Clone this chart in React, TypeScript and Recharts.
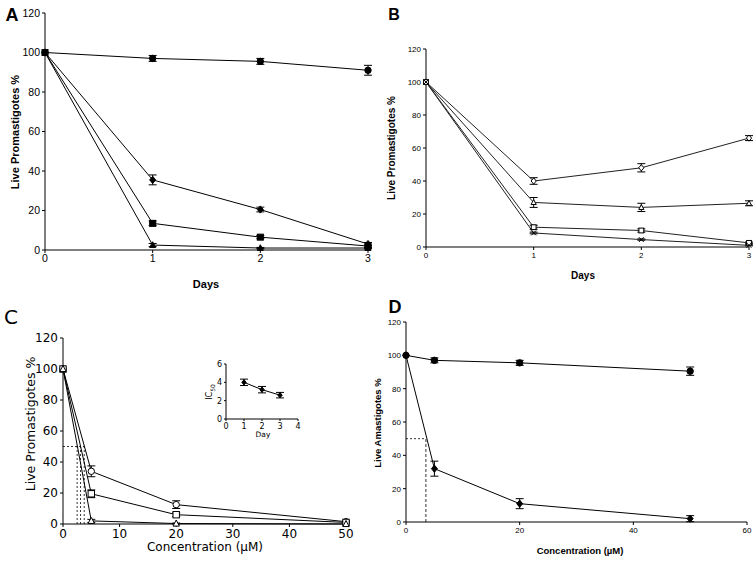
import React from "react";
import {
  LineChart,
  Line,
  XAxis,
  YAxis,
  ErrorBar,
  ReferenceLine,
} from "recharts";

// ---- data ----
const daysX = [0, 1, 2, 3];
const concX = [0, 5, 20, 50];

// Panel A (days)
const aCtrl = [100, 97, 95.5, 91];
const aCtrlErr = [0, 1.5, 1.5, 2.5];
const aDiamond = [100, 35.5, 20.5, 3];
const aDiamondErr = [0, 2.5, 1.2, 0.8];
const aSquare = [100, 13.5, 6.5, 2];
const aSquareErr = [0, 1.2, 0.8, 0.5];
const aTri = [100, 2.5, 1, 1];
const aTriErr = [0, 0.8, 0.3, 0.3];

// Panel B (days)
const bDiamond = [100, 40, 48, 66];
const bDiamondErr = [0, 2, 2.5, 1.5];
const bTri = [100, 27, 24, 26.5];
const bTriErr = [0, 3, 2.5, 1.5];
const bSquare = [100, 12, 10, 2.5];
const bSquareErr = [0, 1.2, 1, 0.5];
const bCross = [100, 8.5, 4.5, 1];
const bCrossErr = [0, 0.5, 0.4, 0.3];

// Panel C (concentration)
const cCircle = [100, 34, 12.5, 1.5];
const cCircleErr = [0, 3.5, 2.5, 0.5];
const cSquare = [100, 19.5, 6, 1];
const cSquareErr = [0, 2.5, 1.2, 0.5];
const cTri = [100, 2, 0.3, 0];
const cTriErr = [0, 1, 0.3, 0];
const cIc50Lines = [2.5, 3.1, 3.75];

// Inset IC50 vs day
const insetDay = [1, 2, 3];
const insetIc50 = [4.0, 3.2, 2.6];
const insetErr = [0.35, 0.35, 0.3];

// Panel D (concentration)
const dCtrl = [100, 97, 95.5, 90.5];
const dCtrlErr = [0, 1.5, 1.5, 2.5];
const dDrug = [100, 32, 11, 2];
const dDrugErr = [0, 4.5, 3, 1.8];
const dIc50 = 3.5;

const pctTicks = [0, 20, 40, 60, 80, 100, 120];

const rows = (xs: number[], series: Record<string, number[]>) =>
  xs.map((x, i) => {
    const r: Record<string, number> = { x };
    Object.keys(series).forEach((k) => (r[k] = series[k][i]));
    return r;
  });

const dataA = rows(daysX, {
  s1: aCtrl, e1: aCtrlErr, s2: aDiamond, e2: aDiamondErr,
  s3: aSquare, e3: aSquareErr, s4: aTri, e4: aTriErr,
});
const dataB = rows(daysX, {
  s1: bDiamond, e1: bDiamondErr, s2: bTri, e2: bTriErr,
  s3: bSquare, e3: bSquareErr, s4: bCross, e4: bCrossErr,
});
const dataC = rows(concX, {
  s1: cCircle, e1: cCircleErr, s2: cSquare, e2: cSquareErr,
  s3: cTri, e3: cTriErr,
});
const dataInset = rows(insetDay, { s1: insetIc50, e1: insetErr });
const dataD = rows(concX, {
  s1: dCtrl, e1: dCtrlErr, s2: dDrug, e2: dDrugErr,
});

type Shape = "circle" | "square" | "diamond" | "triangle" | "cross";

const Mk = ({ cx, cy, shape, filled, s }: { cx: number; cy: number; shape: Shape; filled: boolean; s: number }) => {
  if (cx == null || cy == null) return null;
  const fill = filled ? "#000" : "#fff";
  const common = { fill, stroke: "#000", strokeWidth: 1 };
  if (shape === "circle") return <circle cx={cx} cy={cy} r={s} {...common} />;
  if (shape === "square")
    return <rect x={cx - s} y={cy - s} width={s * 2} height={s * 2} {...common} />;
  if (shape === "diamond")
    return (
      <polygon
        points={`${cx},${cy - s * 1.2} ${cx + s},${cy} ${cx},${cy + s * 1.2} ${cx - s},${cy}`}
        {...common}
      />
    );
  if (shape === "triangle")
    return (
      <polygon
        points={`${cx},${cy - s * 1.1} ${cx + s},${cy + s * 0.8} ${cx - s},${cy + s * 0.8}`}
        {...common}
      />
    );
  return (
    <g stroke="#000" strokeWidth={1}>
      <line x1={cx - s} y1={cy - s} x2={cx + s} y2={cy + s} />
      <line x1={cx - s} y1={cy + s} x2={cx + s} y2={cy - s} />
    </g>
  );
};

const dot = (shape: Shape, filled: boolean, s: number) => (p: any) => (
  <Mk key={`d-${p.index}`} cx={p.cx} cy={p.cy} shape={shape} filled={filled} s={s} />
);

const series = (
  key: string,
  err: string,
  shape: Shape,
  filled: boolean,
  s: number,
  color = "#000"
) => (
  <Line
    key={key}
    dataKey={key}
    stroke={color}
    strokeWidth={1}
    dot={dot(shape, filled, s)}
    activeDot={false}
    isAnimationActive={false}
  >
    <ErrorBar dataKey={err} width={4} stroke="#000" strokeWidth={1} direction="y" />
  </Line>
);

const abs = (left: number, top: number): React.CSSProperties => ({
  position: "absolute",
  left,
  top,
});

const Txt = ({
  x, y, children, size, bold, rotate, font,
}: {
  x: number; y: number; children: React.ReactNode; size: number;
  bold?: boolean; rotate?: boolean; font?: string;
}) => (
  <div
    style={{
      position: "absolute",
      left: x,
      top: y,
      transform: `translate(-50%, -50%)${rotate ? " rotate(-90deg)" : ""}`,
      fontFamily: font || "'Liberation Sans', Arial, sans-serif",
      fontSize: size,
      fontWeight: bold ? 700 : 400,
      whiteSpace: "nowrap",
      lineHeight: 1,
      color: "#000",
    }}
  >
    {children}
  </div>
);

const arial = "'Liberation Sans', Arial, sans-serif";
const round = "'DejaVu Sans', sans-serif";

export default function App() {
  const axisProps = (size: number, font: string) => ({
    axisLine: { stroke: "#000" },
    tickLine: { stroke: "#000" },
    tick: { fill: "#000", fontSize: size, fontFamily: font },
    tickSize: 3,
  });

  return (
    <div style={{ position: "absolute", left: 0, top: 0, width: 756, height: 561, background: "#fff", overflow: "hidden" }}>
      {/* Panel A */}
      <div style={abs(0, 0)}>
        <LineChart width={378} height={280} data={dataA} margin={{ top: 13, right: 10, left: 0, bottom: 0 }}>
          <XAxis dataKey="x" type="number" domain={[0, 3]} ticks={daysX} height={30} {...axisProps(10.5, arial)} />
          <YAxis domain={[0, 120]} ticks={pctTicks} width={45} {...axisProps(10.5, arial)} />
          {series("s1", "e1", "circle", true, 3.2)}
          {series("s2", "e2", "diamond", true, 3)}
          {series("s3", "e3", "square", true, 3)}
          {series("s4", "e4", "triangle", true, 3)}
        </LineChart>
      </div>
      <Txt x={12} y={15} size={18} bold>A</Txt>
      <Txt x={15} y={132} size={11} bold rotate>Live Promastigotes %</Txt>
      <Txt x={206} y={284} size={11} bold>Days</Txt>

      {/* Panel B */}
      <div style={abs(378, 0)}>
        <LineChart width={378} height={280} data={dataB} margin={{ top: 49, right: 7, left: 0, bottom: 0 }}>
          <XAxis dataKey="x" type="number" domain={[0, 3]} ticks={daysX} height={33} {...axisProps(8, arial)} />
          <YAxis domain={[0, 120]} ticks={pctTicks} width={48} {...axisProps(8, arial)} />
          {series("s1", "e1", "diamond", false, 2.6, "#222")}
          {series("s2", "e2", "triangle", false, 2.6, "#222")}
          {series("s3", "e3", "square", false, 2.4, "#222")}
          {series("s4", "e4", "cross", false, 2.4, "#222")}
        </LineChart>
      </div>
      <Txt x={394} y={15} size={16} bold>B</Txt>
      <Txt x={392} y={148} size={10} bold rotate>Live Promastigotes %</Txt>
      <Txt x={583} y={276} size={10} bold>Days</Txt>

      {/* Panel C */}
      <div style={abs(0, 280)}>
        <LineChart width={378} height={281} data={dataC} margin={{ top: 58, right: 32, left: 0, bottom: 0 }}>
          <XAxis dataKey="x" type="number" domain={[0, 50]} ticks={[0, 10, 20, 30, 40, 50]} height={37} {...axisProps(12, round)} />
          <YAxis domain={[0, 120]} ticks={pctTicks} width={63} {...axisProps(12, round)} />
          <ReferenceLine segment={[{ x: 0, y: 50 }, { x: cIc50Lines[2], y: 50 }]} stroke="#000" strokeDasharray="2 2" strokeWidth={0.8} />
          {cIc50Lines.map((v) => (
            <ReferenceLine key={v} segment={[{ x: v, y: 0 }, { x: v, y: 50 }]} stroke="#000" strokeDasharray="2 2" strokeWidth={0.8} />
          ))}
          {series("s1", "e1", "circle", false, 3.2)}
          {series("s2", "e2", "square", false, 3.2)}
          {series("s3", "e3", "triangle", false, 3.2)}
        </LineChart>
      </div>
      <div style={abs(190, 350)}>
        <LineChart width={120} height={95} data={dataInset} margin={{ top: 14, right: 12, left: 0, bottom: 0 }}>
          <XAxis dataKey="x" type="number" domain={[0, 4]} ticks={[0, 1, 2, 3, 4]} height={26} {...axisProps(8, round)} tickSize={2} />
          <YAxis domain={[0, 6]} ticks={[0, 2, 4, 6]} width={36} {...axisProps(8, round)} tickSize={2} />
          {series("s1", "e1", "diamond", true, 2.2)}
        </LineChart>
      </div>
      <Txt x={11} y={317} size={20} font={round}>C</Txt>
      <Txt x={31} y={424} size={12.5} rotate font={round}>Live Promastigotes %</Txt>
      <Txt x={205} y={547} size={12} font={round}>Concentration (µM)</Txt>
      <Txt x={263} y={435} size={7.5} font={round}>Day</Txt>
      <Txt x={211} y={392} size={8} rotate font={round}>
        IC<sub style={{ fontSize: 6 }}>50</sub>
      </Txt>

      {/* Panel D */}
      <div style={abs(378, 280)}>
        <LineChart width={378} height={281} data={dataD} margin={{ top: 42, right: 9, left: 0, bottom: 0 }}>
          <XAxis dataKey="x" type="number" domain={[0, 60]} ticks={[0, 20, 40, 60]} height={39} {...axisProps(8, arial)} />
          <YAxis domain={[0, 120]} ticks={pctTicks} width={28} {...axisProps(8, arial)} />
          <ReferenceLine segment={[{ x: 0, y: 50 }, { x: dIc50, y: 50 }]} stroke="#000" strokeDasharray="2 2" strokeWidth={0.8} />
          <ReferenceLine segment={[{ x: dIc50, y: 0 }, { x: dIc50, y: 50 }]} stroke="#000" strokeDasharray="3 2" strokeWidth={0.8} />
          {series("s1", "e1", "circle", true, 3.2)}
          {series("s2", "e2", "diamond", true, 3)}
        </LineChart>
      </div>
      <Txt x={395} y={307} size={18} bold>D</Txt>
      <Txt x={378} y={423} size={9.5} bold rotate>Live Amastigotes %</Txt>
      <Txt x={580} y={551} size={9.5} bold>Concentration (µM)</Txt>
    </div>
  );
}
